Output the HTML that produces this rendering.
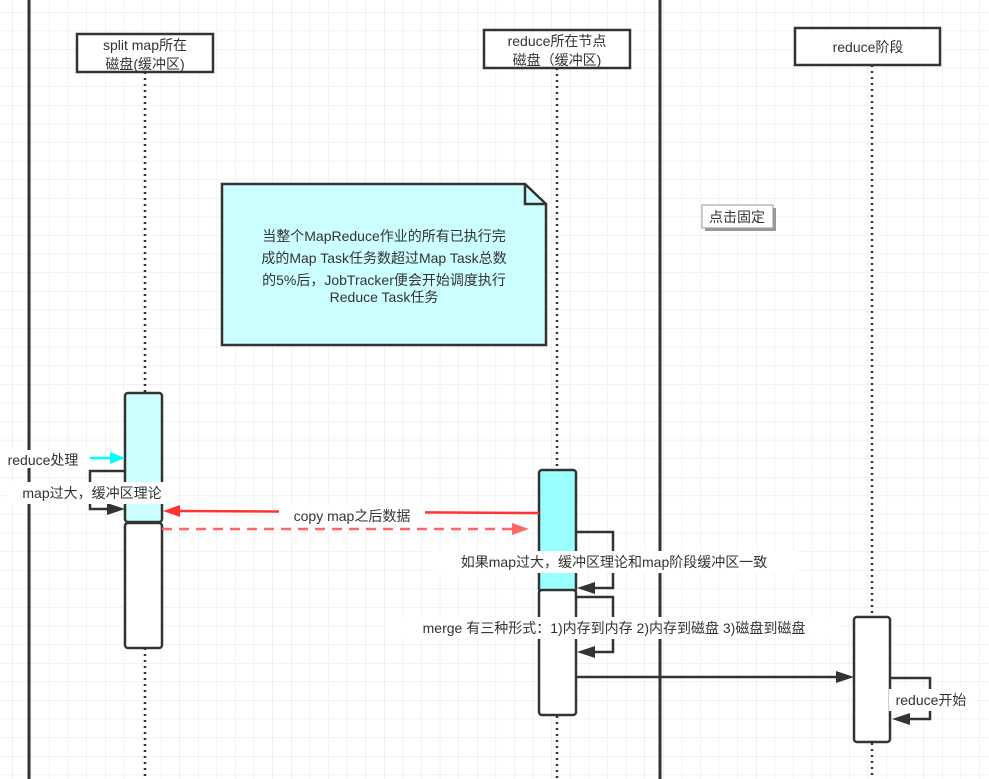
<!DOCTYPE html>
<html><head><meta charset="utf-8"><style>
html,body{margin:0;padding:0;background:#fff}
svg{display:block}
text{font-family:"Liberation Sans","Noto Sans CJK SC",sans-serif;fill:#333;font-size:14px}
</style></head><body>
<svg width="989" height="779" viewBox="0 0 989 779" xmlns="http://www.w3.org/2000/svg">
<defs>
<pattern id="g" x="12" y="12" width="18.6" height="18.6" patternUnits="userSpaceOnUse">
<path d="M0 0H18.6M0 0V18.6" stroke="#e6e6e6" stroke-width="1" fill="none"/>
</pattern>
<marker id="ab" markerWidth="10" markerHeight="8" refX="9" refY="4" orient="auto" markerUnits="userSpaceOnUse"><path d="M0 0L10 4L0 8L2 4Z" fill="#333"/></marker>
</defs>
<rect width="989" height="779" fill="url(#g)"/>
<!-- thick vertical lines -->
<line x1="29" y1="0" x2="29" y2="779" stroke="#333" stroke-width="3"/>
<line x1="660" y1="0" x2="660" y2="779" stroke="#333" stroke-width="3"/>
<!-- lifelines -->
<g stroke="#333" stroke-width="2.5" stroke-dasharray="2,4">
<line x1="145" y1="72" x2="145" y2="779"/>
<line x1="557" y1="68" x2="557" y2="779"/>
<line x1="872" y1="65" x2="872" y2="779"/>
</g>
<!-- heads -->
<g fill="#fff" stroke="#333" stroke-width="2.5">
<rect x="77" y="34" width="136" height="38"/>
<rect x="484" y="30" width="146" height="38"/>
<rect x="795" y="28" width="145" height="37"/>
</g>
<text x="145" y="50" text-anchor="middle">split map所在</text>
<text x="145" y="69" text-anchor="middle">磁盘(缓冲区)</text>
<text x="557" y="46" text-anchor="middle">reduce所在节点</text>
<text x="557" y="65" text-anchor="middle">磁盘（缓冲区)</text>
<text x="868" y="52" text-anchor="middle">reduce阶段</text>
<!-- note -->
<path d="M222 184H525L546 204V345H222Z" fill="#ccffff" stroke="#333" stroke-width="2.5"/>
<path d="M525 184V204H546" fill="none" stroke="#333" stroke-width="2.5"/>
<text x="384" y="241" text-anchor="middle">当整个MapReduce作业的所有已执行完</text>
<text x="384" y="263" text-anchor="middle">成的Map Task任务数超过Map Task总数</text>
<text x="384" y="285" text-anchor="middle">的5%后，JobTracker便会开始调度执行</text>
<text x="384" y="302" text-anchor="middle">Reduce Task任务</text>
<!-- 点击固定 -->
<rect x="705" y="208" width="71" height="23" fill="#999"/>
<rect x="702" y="205" width="71" height="23" fill="#fff" stroke="#999"/>
<text x="737" y="222" text-anchor="middle" font-size="13">点击固定</text>
<!-- activations -->
<g stroke="#333" stroke-width="2.5">
<rect x="125" y="393" width="37" height="129" rx="3" fill="#ccffff"/>
<rect x="125" y="523" width="37" height="125" rx="3" fill="#fff"/>
<rect x="539" y="470" width="37" height="122" rx="3" fill="#99ffff"/>
<rect x="539" y="590" width="37" height="125" rx="3" fill="#fff"/>
<rect x="854" y="617" width="36" height="125" rx="3" fill="#fff"/>
</g>
<!-- cyan arrow -->
<line x1="90" y1="458" x2="116" y2="458" stroke="#00ffff" stroke-width="2.5"/>
<path d="M125 458L110 452L110 464Z" fill="#00ffff"/>
<rect x="0" y="450" width="88" height="18" fill="#fff"/>
<text x="43" y="465" text-anchor="middle">reduce处理</text>
<!-- self loop 1 -->
<path d="M125 471H90V509H112" fill="none" stroke="#333" stroke-width="2.5"/>
<path d="M125 509L107 503L107 515Z" fill="#333"/>
<rect x="8" y="482" width="166" height="22" fill="#fff"/>
<text x="92" y="498" text-anchor="middle">map过大，缓冲区理论</text>
<!-- red arrow -->
<line x1="539" y1="513" x2="176" y2="511" stroke="#ff3333" stroke-width="2.5"/>
<path d="M163 511L180 505L180 517Z" fill="#ff3333"/>
<rect x="279" y="505" width="146" height="20" fill="#fff"/>
<text x="352" y="521" text-anchor="middle">copy map之后数据</text>
<!-- dashed -->
<line x1="162" y1="529" x2="515" y2="529" stroke="#ff6666" stroke-width="2.5" stroke-dasharray="10,7"/>
<path d="M529 529L512 523L512 535Z" fill="#ff6666"/>
<!-- self loop 2 -->
<path d="M576 532H613V588H590" fill="none" stroke="#333" stroke-width="2.5"/>
<path d="M577 588L595 582L595 594Z" fill="#333"/>
<rect x="431" y="551" width="366" height="22" fill="#fff"/>
<text x="614" y="567" text-anchor="middle">如果map过大，缓冲区理论和map阶段缓冲区一致</text>
<!-- self loop 3 -->
<path d="M576 597H613V652H590" fill="none" stroke="#333" stroke-width="2.5"/>
<path d="M577 652L595 646L595 658Z" fill="#333"/>
<rect x="386" y="617" width="456" height="22" fill="#fff"/>
<text x="614" y="633" text-anchor="middle">merge 有三种形式：1)内存到内存 2)内存到磁盘 3)磁盘到磁盘</text>
<!-- arrow to reduce -->
<line x1="576" y1="677" x2="840" y2="677" stroke="#333" stroke-width="2.5"/>
<path d="M854 677L836 671L836 683Z" fill="#333"/>
<!-- self loop 4 -->
<path d="M891 678H930V719H905" fill="none" stroke="#333" stroke-width="2.5"/>
<path d="M892 719L910 713L910 725Z" fill="#333"/>
<rect x="889" y="689" width="86" height="22" fill="#fff"/>
<text x="931" y="705" text-anchor="middle">reduce开始</text>
</svg>
</body></html>
